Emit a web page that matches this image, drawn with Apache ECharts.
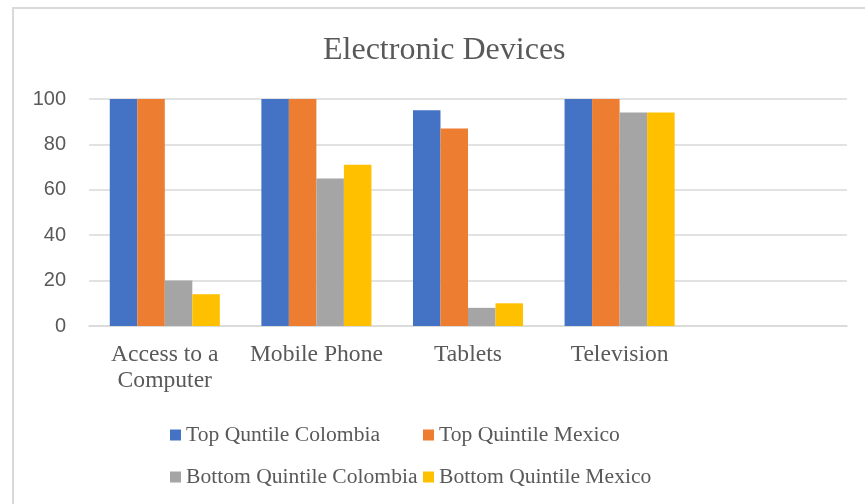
<!DOCTYPE html>
<html>
<head>
<meta charset="utf-8">
<script src="https://cdn.jsdelivr.net/npm/echarts@6/dist/echarts.min.js"></script>
<style>
html,body{margin:0;padding:0;background:#fff;}
#chart{width:865px;height:504px;}
</style>
</head>
<body>
<div id="chart"></div>
<script>
const categories = ['Access to a\nComputer', 'Mobile Phone', 'Tablets', 'Television', ''];
const topColombia = [100, 100, 95, 100, null];
const topMexico = [100, 100, 87, 100, null];
const bottomColombia = [20, 65, 8, 94, null];
const bottomMexico = [14, 71, 10, 94, null];
const seriesNames = ['Top Quntile Colombia', 'Top Quintile Mexico', 'Bottom Quintile Colombia', 'Bottom Quintile Mexico'];
const yTicks = [0, 20, 40, 60, 80, 100];

const colors = ['#4472C4', '#ED7D31', '#A5A5A5', '#FFC000'];
const serif = '"Liberation Serif", "Times New Roman", serif';
const txt = '#595959';

const chart = echarts.init(document.getElementById('chart'));
const seriesData = [topColombia, topMexico, bottomColombia, bottomMexico];
const legendPos = [[170, 424], [423, 424], [170, 466], [423, 466]];

chart.setOption({
  animation: false,
  color: colors,
  title: {
    text: 'Electronic Devices',
    left: 323,
    top: 35,
    padding: 0,
    textStyle: {fontFamily: serif, fontSize: 32, fontWeight: 'normal', color: txt}
  },
  graphic: [{
    type: 'rect',
    shape: {x: 13, y: 8, width: 900, height: 600},
    style: {fill: 'none', stroke: '#d9d9d9', lineWidth: 2},
    silent: true
  }],
  legend: seriesNames.map((n, i) => ({
    data: [n],
    left: legendPos[i][0],
    top: legendPos[i][1],
    itemWidth: 11,
    itemHeight: 11,
    icon: 'rect',
    textStyle: {fontFamily: serif, fontSize: 21.6, color: txt, padding: [0, 0, 0, 0]},
    padding: 0
  })),
  grid: {left: 89, right: 18, top: 99, bottom: 178, containLabel: false},
  xAxis: {
    type: 'category',
    data: categories,
    axisLine: {show: true, lineStyle: {color: '#d9d9d9', width: 1.5}},
    axisTick: {show: false},
    axisLabel: {fontFamily: serif, fontSize: 23.6, color: txt, lineHeight: 26, margin: 16, interval: 0}
  },
  yAxis: {
    type: 'value',
    min: 0,
    max: 100,
    interval: 20,
    axisLine: {show: false},
    axisTick: {show: false},
    splitLine: {lineStyle: {color: '#d9d9d9', width: 1.5}},
    axisLabel: {fontFamily: '"Liberation Sans", Arial, sans-serif', fontSize: 20, color: txt, margin: 23,
      formatter: v => yTicks.includes(v) ? String(v) : ''}
  },
  series: seriesNames.map((n, i) => ({
    name: n,
    type: 'bar',
    data: seriesData[i],
    barGap: '0%',
    barCategoryGap: '27.4%',
    itemStyle: {color: colors[i]}
  }))
});
</script>
</body>
</html>
